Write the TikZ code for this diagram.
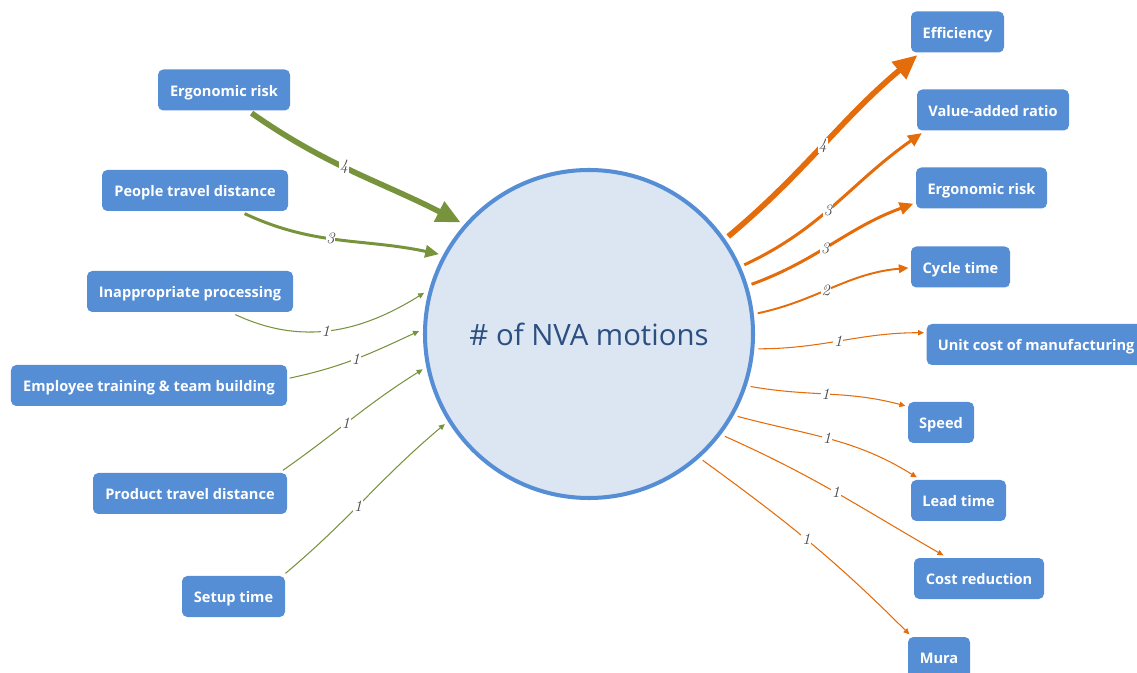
\documentclass[tikz,border=0pt]{standalone}
\usepackage{fontspec}
\newfontfamily\opensans{Open Sans}
\usetikzlibrary{arrows.meta}

\definecolor{boxblue}{HTML}{558ED5}
\definecolor{circfill}{HTML}{DCE6F2}
\definecolor{titleblue}{HTML}{2A4F80}
\definecolor{ingreen}{HTML}{77933C}
\definecolor{outorange}{HTML}{E46C0A}

\tikzset{
  factor/.style={fill=boxblue, rounded corners=3pt, text=white, font=\opensans\fontsize{8.3}{10}\selectfont\bfseries, minimum height=0.82cm, inner xsep=0.12cm, text height=0.72em, text depth=0em, outer sep=1.5pt},
  weight/.style={font=\fontsize{9}{10}\selectfont\itshape, text=black!70, fill=white, inner sep=0.4pt},
  inflow/.style={draw=ingreen, -{Triangle[length=1pt 4, width=1pt 3.5]}},
  outflow/.style={draw=outorange, -{Triangle[length=1pt 4, width=1pt 3.5]}},
  wfour/.style={line width=3.2pt},
  wthree/.style={line width=1.7pt},
  wtwo/.style={line width=1.1pt},
  wone/.style={line width=0.6pt}
}

\begin{document}
\begin{tikzpicture}
        \useasboundingbox (0,0) rectangle (22.74,-13.46);

        % Draw the central circle
        \node[circle, draw=boxblue, fill=circfill, line width=2.3pt, minimum size=6.56cm, outer sep=0.12cm, text=titleblue, font=\opensans\fontsize{16.7}{19}\selectfont] (nva) at (11.78,-6.68) {\# of NVA motions};

        % Causes on the left
        \node[factor, minimum width=2.64cm] (ergL) at (4.48,-1.80) {Ergonomic risk};
        \node[factor, minimum width=3.72cm] (people) at (3.90,-3.81) {People travel distance};
        \node[factor, minimum width=4.12cm] (inapp) at (3.80,-5.83) {Inappropriate processing};
        \node[factor, minimum width=5.52cm] (emp) at (2.98,-7.71) {Employee training \& team building};
        \node[factor, minimum width=3.88cm] (product) at (3.80,-9.87) {Product travel distance};
        \node[factor, minimum width=2.06cm] (setup) at (4.67,-11.93) {Setup time};

        % Effects on the right
        \node[factor, minimum width=1.86cm] (eff) at (19.15,-0.64) {Efficiency};
        \node[factor, minimum width=3.04cm] (value) at (19.86,-2.20) {Value-added ratio};
        \node[factor, minimum width=2.62cm] (ergR) at (19.63,-3.76) {Ergonomic risk};
        \node[factor, minimum width=1.98cm] (cycle) at (19.21,-5.34) {Cycle time};
        \node[factor, minimum width=4.38cm, anchor=west] (unit) at (18.48,-6.89) {Unit cost of manufacturing};
        \node[factor, minimum width=1.32cm] (speed) at (18.82,-8.45) {Speed};
        \node[factor, minimum width=1.90cm] (lead) at (19.17,-10.01) {Lead time};
        \node[factor, minimum width=2.60cm] (cost) at (19.58,-11.57) {Cost reduction};
        \node[factor, minimum width=1.24cm] (mura) at (18.78,-13.15) {Mura};

        % Draw the incoming arrows
        \draw[inflow, wfour] (ergL.-40) to[out=-35, in=153] node[weight, pos=0.45]{4} (nva.139);
        \draw[inflow, wthree] (people.-25) to[out=-25, in=168] node[weight, pos=0.45]{3} (nva.152);
        \draw[inflow, wone] (inapp.-27) to[out=-25, in=-148] node[weight, pos=0.47]{1} (nva.166);
        \draw[inflow, wone] (emp.3) to[out=12, in=-155] node[weight]{1} (nva.179);
        \draw[inflow, wone] (product.14) to[out=35, in=-148] node[weight, pos=0.45]{1} (nva.192);
        \draw[inflow, wone] (setup.24) to[out=40, in=-140] node[weight, pos=0.45]{1} (nva.212);

        % Draw the outgoing arrows
        \draw[outflow, wfour] (nva.35) to[out=40, in=-140] node[weight]{4} (eff.210);
        \draw[outflow, wthree] (nva.24) to[out=25, in=-145] node[weight, pos=0.45]{3} (value.198);
        \draw[outflow, wthree] (nva.17) to[out=20, in=-160] node[weight, pos=0.45]{3} (ergR.193);
        \draw[outflow, wtwo] (nva.7) to[out=12, in=-175] node[weight, pos=0.45]{2} (cycle.181);
        \draw[outflow, wone] (nva.-5) to[out=0, in=180] node[weight, pos=0.48]{1} (unit.174);
        \draw[outflow, wone] (nva.-18) to[out=-10, in=165] node[weight, pos=0.48]{1} (speed.155);
        \draw[outflow, wone] (nva.-29) to[out=-15, in=148] node[weight, pos=0.48]{1} (lead.151);
        \draw[outflow, wone] (nva.-37) to[out=-24, in=150] node[weight, pos=0.5]{1} (cost.147);
        \draw[outflow, wone] (nva.-48) to[out=-36, in=135] node[weight, pos=0.48]{1} (mura.142);

\end{tikzpicture}
\end{document}
